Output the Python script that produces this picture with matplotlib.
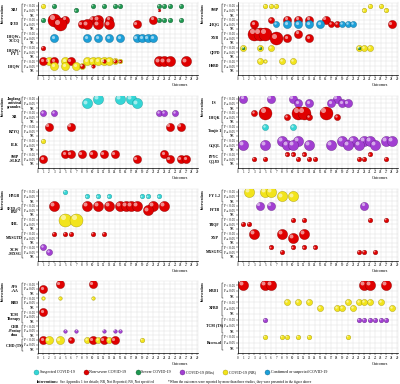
import matplotlib
matplotlib.use('Agg')
import matplotlib.pyplot as plt
from matplotlib.lines import Line2D
from matplotlib.transforms import offset_copy, blended_transform_factory

plt.rcParams['font.family'] = ['Liberation Serif', 'DejaVu Serif']

# legend categories (patient population)
categories = ['Suspected COVID-19', 'Non-severe COVID-19', 'Severe COVID-19',
              'COVID-19 (Mix)', 'COVID-19 (NR)', 'Confirmed or suspected COVID-19']
cat_codes = ['C', 'R', 'G', 'P', 'Y', 'B']
levels = ['P < 0.05', 'P \u2265 0.05', 'NR']
outcomes = list(range(30))

# points: (outcome, row, population code, bubble size class)
# row = group*3 + level (0: P<0.05, 1: P>=0.05, 2: NR)
p1_labels = ['XBJ', 'SFJD', 'LHQW+\nXCCQ', 'LHQW+\nFY 1', 'LHQW']
p1_points = [
    (1, 0, 'Y', 3), (3, 0, 'G', 3), (10, 0, 'G', 3), (12, 0, 'G', 3), (14, 0, 'G', 3),
    (15, 0, 'G', 3), (22, 0, 'G', 3), (23, 0, 'G', 3), (24, 0, 'G', 3), (26, 0, 'G', 3),
    (7, 1, 'G', 3), (22, 1, 'R', 1),
    (1, 3, 'G', 3), (3, 3, 'R', 7), (5, 3, 'R', 5), (10, 3, 'R', 5), (11, 3, 'R', 6),
    (13, 3, 'R', 5), (21, 3, 'R', 5), (22, 3, 'G', 3), (23, 3, 'G', 3), (24, 3, 'G', 3),
    (26, 3, 'G', 3),
    (4, 4, 'R', 7), (8, 4, 'R', 5), (9, 4, 'R', 6), (11, 4, 'R', 6), (13, 4, 'R', 6), (18, 4, 'R', 5),
    (3, 7, 'B', 5), (9, 7, 'B', 5), (11, 7, 'B', 5), (13, 7, 'B', 5), (15, 7, 'B', 5),
    (18, 7, 'B', 5), (19, 7, 'B', 5), (20, 7, 'B', 5), (21, 7, 'B', 5),
    (1, 9, 'R', 3),
    (2, 12, 'Y', 5), (1, 12, 'R', 5), (3, 12, 'R', 5), (5, 12, 'Y', 5), (6, 12, 'R', 5),
    (9, 12, 'Y', 5), (10, 12, 'Y', 5), (11, 12, 'Y', 5), (12, 12, 'Y', 5), (13, 12, 'Y', 5),
    (14, 12, 'Y', 4), (15, 12, 'Y', 3), (12, 12, 'R', 2), (14, 12, 'R', 2), (15, 12, 'R', 1),
    (22, 12, 'R', 6), (23, 12, 'R', 6), (24, 12, 'R', 6), (27, 12, 'R', 6),
    (3, 13, 'Y', 5), (5, 13, 'Y', 5), (7, 13, 'Y', 5), (8, 13, 'Y', 4), (8, 13, 'R', 3), (10, 13, 'R', 2),
]

p2_labels = ['SMP', 'JHQG', 'XYB', 'QFPD', 'HSBD']
p2_points = [
    (5, 0, 'Y', 3), (6, 0, 'Y', 3), (7, 0, 'Y', 3), (24, 0, 'Y', 3), (26, 0, 'Y', 3),
    (23, 1, 'Y', 3), (27, 1, 'Y', 3),
    (6, 3, 'R', 4), (9, 3, 'R', 5), (11, 3, 'R', 5), (13, 3, 'R', 5), (16, 3, 'R', 5),
    (3, 4, 'R', 5), (7, 4, 'B', 4), (9, 4, 'B', 5), (11, 4, 'B', 5), (13, 4, 'B', 5),
    (15, 4, 'B', 5), (17, 4, 'R', 4), (18, 4, 'R', 4), (19, 4, 'B', 4), (20, 4, 'B', 4),
    (21, 4, 'B', 4), (28, 4, 'R', 5),
    (3, 6, 'R', 7), (4, 6, 'R', 7), (5, 6, 'R', 7), (11, 6, 'R', 5),
    (7, 7, 'R', 7), (9, 7, 'R', 5), (13, 7, 'R', 5),
    (1, 9, 'Y', 4), (4, 9, 'Y', 4), (6, 9, 'Y', 4), (22, 9, 'Y', 4), (23, 9, 'Y', 4),
    (24, 9, 'Y', 4), (1, 9, 'G', 1), (4, 9, 'G', 1), (22, 9, 'G', 1),
    (4, 12, 'Y', 4), (5, 12, 'Y', 2), (8, 12, 'Y', 4), (10, 12, 'Y', 4),
]

p3_labels = ['Jingfang\nantiviral\ngranules', 'XB', 'RZYQ', 'FLK', 'SMP\n+SLKZ']
p3_points = [
    (11, 0, 'C', 6), (15, 0, 'C', 6), (17, 0, 'C', 6),
    (9, 1, 'C', 6), (18, 1, 'C', 6),
    (1, 3, 'P', 4), (3, 3, 'P', 4), (22, 3, 'P', 4), (23, 3, 'P', 4), (25, 3, 'P', 4),
    (2, 6, 'R', 5), (6, 6, 'R', 5), (24, 6, 'R', 5), (26, 6, 'R', 5),
    (1, 9, 'Y', 3),
    (5, 12, 'R', 5), (6, 12, 'R', 5), (8, 12, 'R', 5), (10, 12, 'R', 5), (12, 12, 'R', 5),
    (14, 12, 'R', 5), (23, 12, 'R', 5),
    (1, 13, 'R', 5), (18, 13, 'R', 5), (24, 13, 'R', 5), (26, 13, 'R', 5), (27, 13, 'R', 5),
]

p4_labels = ['LS', 'LHQK', 'Toujie 1', 'GQQL', 'PFYC\nQQJD']
p4_points = [
    (1, 0, 'P', 5), (6, 0, 'P', 5), (10, 0, 'P', 5), (18, 0, 'P', 5),
    (11, 1, 'P', 5), (13, 1, 'P', 5), (17, 1, 'P', 5), (19, 1, 'P', 5), (20, 1, 'P', 5),
    (3, 3, 'R', 4), (5, 3, 'R', 7), (11, 3, 'R', 7), (12, 3, 'R', 7), (16, 3, 'R', 7),
    (9, 4, 'R', 4), (13, 4, 'R', 4), (18, 4, 'R', 4),
    (5, 6, 'C', 4), (10, 6, 'C', 4),
    (8, 9, 'P', 6), (11, 9, 'P', 6), (19, 9, 'P', 6), (21, 9, 'P', 6), (23, 9, 'P', 6),
    (24, 9, 'P', 6), (27, 9, 'P', 6), (28, 9, 'P', 6),
    (1, 10, 'P', 6), (5, 10, 'P', 6), (9, 10, 'P', 6), (10, 10, 'P', 6), (13, 10, 'P', 6),
    (17, 10, 'P', 6), (20, 10, 'P', 6), (22, 10, 'P', 6), (25, 10, 'P', 6),
    (9, 12, 'R', 3), (10, 12, 'R', 3), (12, 12, 'R', 3), (24, 12, 'R', 3),
    (3, 13, 'R', 3), (5, 13, 'R', 3), (11, 13, 'R', 3), (13, 13, 'R', 3), (14, 13, 'R', 3),
    (22, 13, 'R', 3), (23, 13, 'R', 3), (27, 13, 'R', 3),
]

p5_labels = ['HZGB', 'SFJD+Q\nBXF', 'SHL', 'MXSGTD', 'XCW\n+MXSG']
p5_points = [
    (5, 0, 'C', 3),
    (9, 1, 'C', 3), (11, 1, 'C', 3), (13, 1, 'C', 3), (19, 1, 'C', 3), (20, 1, 'C', 3), (22, 1, 'C', 3),
    (3, 3, 'R', 6), (9, 3, 'R', 6), (11, 3, 'R', 6), (13, 3, 'R', 6), (15, 3, 'R', 6),
    (16, 3, 'R', 6), (17, 3, 'R', 6), (18, 3, 'R', 6), (21, 3, 'R', 6), (23, 3, 'R', 6),
    (20, 4, 'R', 6),
    (5, 6, 'Y', 7), (7, 6, 'Y', 7),
    (3, 9, 'R', 3), (5, 9, 'R', 3), (6, 9, 'R', 3), (10, 9, 'R', 3), (12, 9, 'R', 3),
    (1, 12, 'P', 4), (2, 13, 'P', 4),
]

p6_labels = ['FY 1-2', 'FYTB', 'TRQF', 'XYP', 'MXSGYC']
p6_points = [
    (2, 0, 'Y', 6), (5, 0, 'Y', 6), (6, 0, 'Y', 6), (8, 1, 'Y', 6), (10, 1, 'Y', 6),
    (4, 3, 'P', 5), (6, 3, 'P', 5), (23, 3, 'P', 5),
    (10, 6, 'R', 3), (12, 6, 'R', 3), (24, 6, 'R', 3), (27, 6, 'R', 3),
    (1, 7, 'R', 3), (2, 7, 'R', 3),
    (3, 9, 'R', 6), (8, 9, 'R', 6), (12, 9, 'R', 6), (10, 10, 'R', 6),
    (6, 12, 'R', 3), (10, 12, 'R', 3), (12, 12, 'R', 3), (14, 12, 'R', 3),
    (8, 13, 'R', 3), (22, 13, 'R', 3), (23, 13, 'R', 3), (25, 13, 'R', 3),
]

p7_labels = ['AFS\n+AA', 'RBD', 'TCM\nTherapy', 'CHB\n+Pentay\nelua', 'CHD (TS)']
p7_points = [
    (4, 0, 'R', 5), (10, 0, 'R', 5), (1, 1, 'R', 5),
    (1, 3, 'Y', 2), (4, 3, 'Y', 2), (10, 3, 'Y', 2),
    (1, 6, 'R', 5),
    (5, 10, 'P', 2), (7, 10, 'P', 2), (12, 10, 'P', 2), (14, 10, 'P', 2), (15, 10, 'P', 2),
    (1, 12, 'R', 5), (2, 12, 'Y', 5), (4, 12, 'Y', 5), (6, 12, 'R', 4), (9, 12, 'Y', 4),
    (10, 12, 'R', 5), (11, 12, 'Y', 4), (12, 12, 'R', 5), (13, 12, 'Y', 4), (14, 12, 'R', 5),
    (19, 12, 'Y', 3),
]

p8_labels = ['KBD1', 'XFBD', 'TCM (TS)', 'Recess-ol']
p8_points = [
    (1, 0, 'R', 6), (5, 0, 'R', 6), (6, 0, 'R', 6), (23, 0, 'R', 6), (24, 0, 'R', 6), (27, 0, 'R', 6),
    (9, 3, 'Y', 4), (11, 3, 'Y', 4), (13, 3, 'Y', 4), (20, 3, 'Y', 4), (22, 3, 'Y', 4),
    (23, 3, 'Y', 4), (24, 3, 'Y', 4), (26, 3, 'Y', 4),
    (15, 4, 'Y', 4), (18, 4, 'Y', 4), (19, 4, 'Y', 4), (21, 4, 'Y', 4), (28, 4, 'Y', 4),
    (5, 6, 'P', 3), (22, 6, 'P', 3), (23, 6, 'P', 3), (24, 6, 'P', 3), (25, 6, 'P', 3),
    (26, 6, 'P', 3), (27, 6, 'P', 3),
    (5, 9, 'Y', 3), (8, 9, 'Y', 3), (9, 9, 'Y', 3), (11, 9, 'Y', 3), (13, 9, 'Y', 3), (20, 9, 'Y', 3),
]

colors = {'C': '#35D6D6', 'R': '#E00000', 'G': '#1E9850', 'P': '#A23FD2',
          'Y': '#F2E41C', 'B': '#1C9FD8'}
edges = {'C': '#168F8F', 'R': '#7A0000', 'G': '#0B4F27', 'P': '#5A1A7A',
         'Y': '#9A8C00', 'B': '#0B5C80'}
diam = {1: 2.8, 2: 3.6, 3: 4.6, 4: 6.2, 5: 8.2, 6: 10.2, 7: 13.0}  # pixels

fig = plt.figure(figsize=(4, 3.84), dpi=100)


def bubble_panel(ax, labels, points):
    nrow = 3 * len(labels)
    ax.set_xlim(0, 29.1)
    ax.set_ylim(nrow - 0.2, -0.7)
    ax.set_xticks(outcomes)
    ax.set_yticks(range(nrow))
    ax.set_yticklabels(levels * len(labels))
    ax.tick_params(length=1.2, width=0.3, pad=0.8, labelsize=2.3)
    ax.grid(color='#dcdcdc', lw=0.3)
    ax.set_axisbelow(True)
    for side in ['top', 'right']:
        ax.spines[side].set_color('#e0e0e0')
        ax.spines[side].set_linewidth(0.3)
    for side in ['left', 'bottom']:
        ax.spines[side].set_linewidth(0.5)

    for x, r, c, n in points:
        d = diam[n] * 0.72
        s = d ** 2
        ax.scatter(x, r, s=s, color=colors[c], edgecolors=edges[c], linewidths=0.25, zorder=3)
        tr = offset_copy(ax.transData, fig=fig, x=-d * 0.17, y=d * 0.17, units='points')
        ax.scatter(x, r, s=s * 0.15, color='white', alpha=0.55, linewidths=0,
                   transform=tr, zorder=4)

    bt = blended_transform_factory(ax.transAxes, ax.transData)
    for g, lab in enumerate(labels):
        ax.text(-0.145, 3 * g + 1, lab, transform=bt, ha='center', va='center',
                fontsize=2.8, fontweight='bold', linespacing=1.0)
        y0, y1 = 3 * g - 0.3, 3 * g + 2.3
        ax.plot([-0.095, -0.101, -0.101, -0.095], [y0, y0, y1, y1], transform=bt,
                color='black', lw=0.35, clip_on=False)
    ax.text(-0.215, 0.86, 'Interventions', rotation=90, transform=ax.transAxes,
            ha='center', va='center', fontsize=2.4, fontweight='bold')
    ax.text(0.89, -0.15, 'Outcomes', transform=ax.transAxes, ha='center',
            va='center', fontsize=3)


panels = [(p1_labels, p1_points), (p2_labels, p2_points),
          (p3_labels, p3_points), (p4_labels, p4_points),
          (p5_labels, p5_points), (p6_labels, p6_points),
          (p7_labels, p7_points), (p8_labels, p8_points)]
tops = [2.5, 95.5, 188.5, 281]
lefts = [37.7, 237.7]
for k, (labels, points) in enumerate(panels):
    i, j = divmod(k, 2)
    ax = fig.add_axes([lefts[j] / 400, 1 - (tops[i] + 72) / 384, 160 / 400, 72 / 384])
    bubble_panel(ax, labels, points)

handles = [Line2D([], [], ls='', marker='o', markersize=3.6, markerfacecolor=colors[c],
                  markeredgecolor=edges[c], markeredgewidth=0.25) for c in cat_codes]
fig.legend(handles, categories, loc='center left', bbox_to_anchor=(0.085, 0.031), ncol=6,
           frameon=False, fontsize=2.9, handletextpad=0.4, columnspacing=2.3,
           handlelength=1, borderaxespad=0, borderpad=0)

t1 = fig.text(0.093, 0.0065, 'Interventions:', fontsize=2.6, fontweight='bold', va='center')
fig.axes[0].annotate(' See Appendix 1 for details; NR, Not Reported; NS, Not specified',
                     xy=(1, 0.5), xycoords=t1, va='center', fontsize=2.6, annotation_clip=False)
fig.text(0.42, 0.0065, '*When the outcomes were reported by more than three studies, '
         'they were presented in the figure above', fontsize=2.5, va='center')

fig.savefig('out.png', dpi=100)
